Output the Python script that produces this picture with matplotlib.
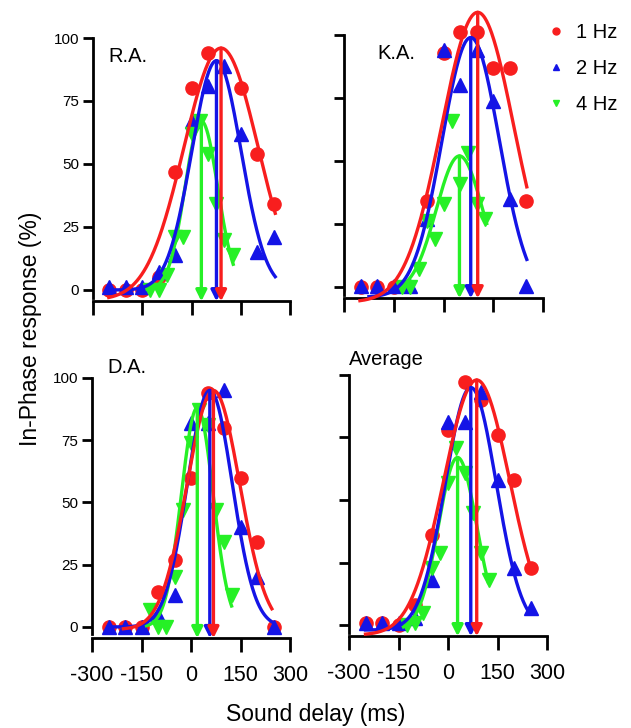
import numpy as np
import matplotlib
matplotlib.use("Agg")
import matplotlib.pyplot as plt
from matplotlib.lines import Line2D

plt.rcParams['font.family'] = ['Liberation Sans', 'DejaVu Sans']
plt.rcParams['axes.unicode_minus'] = False

# ---------------- data ----------------
delays_12 = [-250, -200, -150, -100, -50, 0, 50, 100, 150, 200, 250]   # 1 Hz and 2 Hz
delays_4 = [-125, -100, -75, -50, -25, 0, 25, 50, 75, 100, 125]        # 4 Hz
nan = np.nan

panel_names = ["R.A.", "K.A.", "D.A.", "Average"]

ra_1hz = [0, 0, 0, 5, 47, 80, 94, nan, 80, 54, 34]
ra_2hz = [1, 1, 1, 7, 14, 67, 81, 89, 62, 15, 21]
ra_4hz = [0, 0, 6, 21, 21, 62, 67, 54, 34, 20, 14]

ka_1hz = [0, 0, 0, nan, 34, 93, 101, 101, 87, 87, 34]
ka_2hz = [0.5, 0.5, 0.5, 0.5, 27, 94, 80, 94, 74, 35, 0.5]
ka_4hz = [0, 0, 7, 26, 19, 33, 66, 41, 53, 33, 27]

da_1hz = [0, 0, 0, 14, 27, 60, 94, 80, 60, 34, 0]
da_2hz = [0, 0, 0, 5, 13, 82, 82, 95, 40, 20, 0]
da_4hz = [7, 0, 0, 20, 47, 74, 87, 81, 47, 34, 13]

av_1hz = [1, 1, 0, 8, 36, 78, 97, 90, 76, 58, 23]
av_2hz = [1, 1, 1, 3, 18, 81, 81, 93, 58, 23, 7]
av_4hz = [0, 1, 5, 23, 29, 57, 71, 61, 45, 29, 18]

# Gaussian fit parameters per panel: (center, amplitude, width, baseline, x_start, x_end)
ra_fits = {"1": (90, 100, 113, -4, -252, 255), "2": (76, 91, 75, 0, -255, 255), "4": (30, 67, 50, 0, -135, 127)}
ka_fits = {"1": (103, 115, 109, -6, -252, 251), "2": (82, 103, 86, -4, -225, 251), "4": (48, 54, 70, -2, -127, 130)}
da_fits = {"1": (68, 96, 80, -1, -205, 245), "2": (57, 95, 68, 0, -250, 250), "4": (19, 88, 48, 0, -135, 123)}
av_fits = {"1": (87, 102, 100, -4, -250, 248), "2": (69, 97, 77, -2, -250, 248), "4": (29, 69, 58, -2, -135, 122)}

x_ticks = [-300, -150, 0, 150, 300]
y_ticks = [0, 25, 50, 75, 100]

series_labels = ["1 Hz", "2 Hz", "4 Hz"]
colors = {"1": "#F81E1E", "2": "#1414E6", "4": "#26F026"}
markers = {"1": "o", "2": "^", "4": "v"}

panels = [
    (ra_1hz, ra_2hz, ra_4hz, ra_fits),
    (ka_1hz, ka_2hz, ka_4hz, ka_fits),
    (da_1hz, da_2hz, da_4hz, da_fits),
    (av_1hz, av_2hz, av_4hz, av_fits),
]

positions = [
    [0.1474, 0.5861, 0.3122, 0.3617],
    [0.5452, 0.5902, 0.3154, 0.3617],
    [0.1458, 0.1234, 0.3138, 0.3574],
    [0.5531, 0.1260, 0.3138, 0.3589],
]
title_pos = [(0.08, 0.93), (0.17, 0.93), (0.08, 1.04), (0.0, 1.06)]

YMIN = -4.5

fig = plt.figure(figsize=(6.31, 7.28), dpi=100)

for i, ((s1, s2, s4, fits), pos) in enumerate(zip(panels, positions)):
    ax = fig.add_axes(pos)
    data = {"1": (delays_12, s1), "2": (delays_12, s2), "4": (delays_4, s4)}
    for key in ["1", "2", "4"]:
        xs, ys = data[key]
        ax.plot(xs, ys, linestyle='none', marker=markers[key], color=colors[key],
                markersize=10 if key != "1" else 9.5, clip_on=False, zorder=3)
    for key in ["4", "2", "1"]:
        c, A, s, b, x0, x1 = fits[key]
        xx = np.linspace(x0, x1, 300)
        yy = b + A * np.exp(-(xx - c) ** 2 / (2 * s ** 2))
        ax.plot(xx, yy, color=colors[key], lw=2.4, clip_on=False, zorder=4)
    for key in ["4", "2", "1"]:
        c, A, s, b, x0, x1 = fits[key]
        ax.annotate('', xy=(c, YMIN), xytext=(c, b + A),
                    arrowprops=dict(arrowstyle='-|>', color=colors[key], lw=2.4,
                                    mutation_scale=16, shrinkA=0, shrinkB=0),
                    zorder=5, annotation_clip=False)
    ax.set_xlim(-300, 300)
    ax.set_ylim(YMIN, 100)
    ax.set_xticks(x_ticks)
    ax.set_yticks(y_ticks)
    for sp in ['top', 'right']:
        ax.spines[sp].set_visible(False)
    ax.spines['left'].set_linewidth(2.0)
    ax.spines['bottom'].set_linewidth(2.0)
    ax.spines['left'].set_bounds(-3.0, 100)
    ax.tick_params(axis='y', direction='out', length=7, width=2.0, labelsize=11, pad=3)
    ax.tick_params(axis='x', direction='out', length=10, width=2.0, labelsize=15.5, pad=9)
    if i < 2:
        ax.set_xticklabels([])
    if i % 2 == 1:
        ax.set_yticklabels([])
    ax.patch.set_alpha(0)
    ax.text(title_pos[i][0], title_pos[i][1], panel_names[i], transform=ax.transAxes,
            fontsize=14.5, ha='left', va='center')

fig.text(0.048, 0.548, "In-Phase response (%)", rotation=90, fontsize=16.5,
         ha='center', va='center')
fig.text(0.5, 0.019, "Sound delay (ms)", fontsize=16.5, ha='center', va='center')

handles = [Line2D([], [], linestyle='none', marker=markers[k], color=colors[k], markersize=5)
           for k in ["1", "2", "4"]]
fig.legend(handles, series_labels, loc='upper left', bbox_to_anchor=(0.855, 0.98),
           frameon=False, fontsize=14.5, handlelength=0.8, handletextpad=0.6,
           labelspacing=0.85, borderaxespad=0)

fig.savefig("out.png", dpi=100)
